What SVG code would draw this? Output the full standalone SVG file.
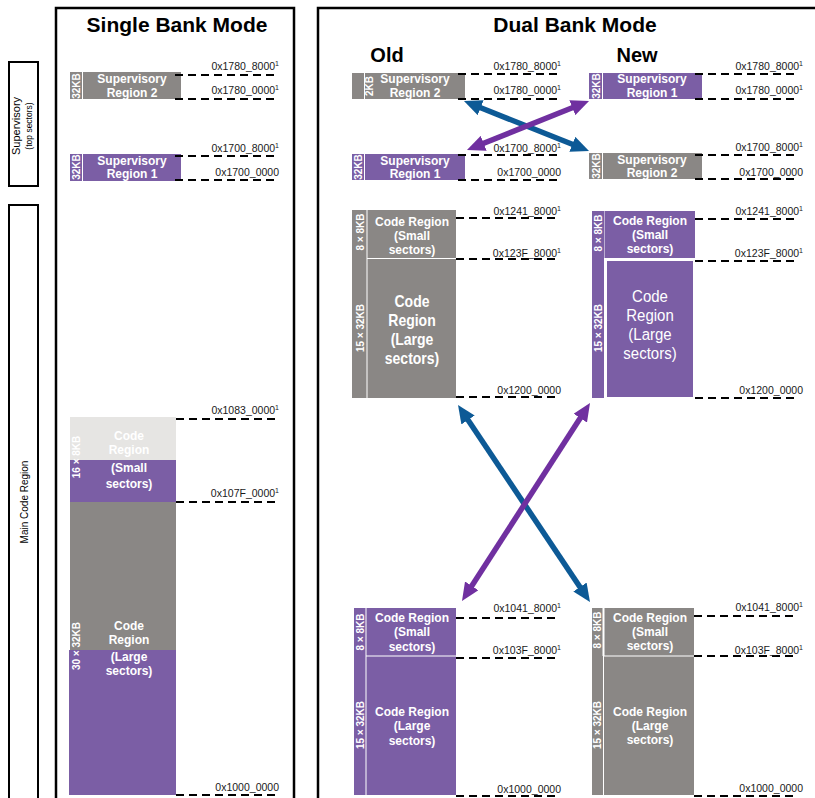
<svg xmlns="http://www.w3.org/2000/svg" width="815" height="798" viewBox="0 0 815 798">
<style>
.bg{fill:#ffffff}
.frame{fill:none;stroke:#000;stroke-width:2.5}
.side{fill:none;stroke:#000;stroke-width:2}
.pu{fill:#7b5ea5}
.gr{fill:#8a8785}
.lg{fill:#e6e5e3}
.sep{stroke:#ffffff;stroke-width:1;fill:none}
.dash{stroke:#000;stroke-width:2;stroke-dasharray:8 5;fill:none}
.addr{font-family:"Liberation Sans",Arial,sans-serif;font-size:10.5px;fill:#1a1a1a;text-anchor:end}
.sup{font-size:7px}
.wb{font-family:"Liberation Sans",Arial,sans-serif;font-size:12px;font-weight:bold;fill:#fff;text-anchor:middle}
.wbl{font-family:"Liberation Sans",Arial,sans-serif;font-size:14px;font-weight:bold;fill:#fff;text-anchor:middle}
.wnl{font-family:"Liberation Sans",Arial,sans-serif;font-size:15px;fill:#fff;text-anchor:middle}
.vt{font-family:"Liberation Sans",Arial,sans-serif;font-size:10px;font-weight:bold;fill:#fff;text-anchor:middle}
.title{font-family:"Liberation Sans",Arial,sans-serif;font-size:21px;font-weight:bold;fill:#000;text-anchor:middle}
.sub{font-family:"Liberation Sans",Arial,sans-serif;font-size:20px;font-weight:bold;fill:#000;text-anchor:middle}
.sidet{font-family:"Liberation Sans",Arial,sans-serif;fill:#000;text-anchor:middle}
.ab{stroke:#0d5a96;stroke-width:5.5;fill:none}
.ap{stroke:#7030a0;stroke-width:5.5;fill:none}
</style>
<defs>
<marker id="hb" viewBox="0 0 18 16" markerWidth="18" markerHeight="16" refX="6" refY="8" orient="auto-start-reverse" markerUnits="userSpaceOnUse"><path d="M0,0 L18,8 L0,16 z" fill="#0d5a96"/></marker>
<marker id="hp" viewBox="0 0 18 16" markerWidth="18" markerHeight="16" refX="6" refY="8" orient="auto-start-reverse" markerUnits="userSpaceOnUse"><path d="M0,0 L18,8 L0,16 z" fill="#7030a0"/></marker>
</defs>
<rect class="bg" x="0" y="0" width="815" height="798"/>

<g id="side-labels">
<rect class="side" x="9" y="62" width="29" height="124"/>
<text class="sidet" style="font-size:11px" transform="translate(16,126) rotate(-90)" dy="0.35em">Supervisory</text>
<text class="sidet" style="font-size:8.5px" transform="translate(29,126) rotate(-90)" dy="0.35em">(top sectors)</text>
<rect class="side" x="9" y="205" width="29" height="620"/>
<text class="sidet" style="font-size:10px" transform="translate(24,502) rotate(-90)" dy="0.35em">Main Code Region</text>
</g>

<g id="single-bank">
<rect class="frame" x="56" y="8" width="238" height="820"/>
<text class="title" x="177" y="32">Single Bank Mode</text>
</g>

<g id="dual-bank">
<rect class="frame" x="318" y="8" width="520" height="820"/>
<text class="title" x="575" y="32">Dual Bank Mode</text>
<text class="sub" x="387" y="62">Old</text>
<text class="sub" x="637" y="62">New</text>
</g>

<!-- Single bank nodes -->
<g id="s-sup2">
<rect class="gr" x="70" y="72" width="111" height="27"/>
<line class="sep" x1="82.5" y1="72" x2="82.5" y2="99"/>
<text class="vt" transform="translate(76,86) rotate(-90)" dy="0.35em">32KB</text>
<text class="wb" x="132" y="83">Supervisory</text>
<text class="wb" x="132" y="97">Region 2</text>
</g>
<g id="s-sup1">
<rect class="pu" x="70" y="154" width="111" height="27"/>
<line class="sep" x1="82.5" y1="154" x2="82.5" y2="181"/>
<text class="vt" transform="translate(76,167) rotate(-90)" dy="0.35em">32KB</text>
<text class="wb" x="132" y="165">Supervisory</text>
<text class="wb" x="132" y="178">Region 1</text>
</g>
<g id="s-code">
<rect class="lg" x="70" y="417" width="106" height="43"/>
<rect class="pu" x="70" y="460" width="106" height="42"/>
<rect class="gr" x="70" y="502" width="106" height="148"/>
<rect class="pu" x="69" y="650" width="107" height="145"/>
<text class="vt" transform="translate(76,457) rotate(-90)" dy="0.35em">16 × 8KB</text>
<text class="wb" x="129" y="440">Code</text>
<text class="wb" x="129" y="454">Region</text>
<text class="wb" x="129" y="472">(Small</text>
<text class="wb" x="129" y="488">sectors)</text>
<text class="vt" transform="translate(76,646) rotate(-90)" dy="0.35em">30 × 32KB</text>
<text class="wb" x="129" y="630">Code</text>
<text class="wb" x="129" y="644">Region</text>
<text class="wb" x="129" y="661">(Large</text>
<text class="wb" x="129" y="675">sectors)</text>
</g>

<!-- Dual bank old -->
<g id="o-sup2">
<rect class="gr" x="352" y="73" width="113" height="26"/>
<line class="sep" x1="364.5" y1="73" x2="364.5" y2="99"/>
<text class="vt" transform="translate(369,86) rotate(-90)" dy="0.35em">2KB</text>
<text class="wb" x="415" y="83">Supervisory</text>
<text class="wb" x="415" y="97">Region 2</text>
</g>
<g id="o-sup1">
<rect class="pu" x="352" y="154" width="113" height="26"/>
<line class="sep" x1="364.5" y1="154" x2="364.5" y2="180"/>
<text class="vt" transform="translate(358,167) rotate(-90)" dy="0.35em">32KB</text>
<text class="wb" x="415" y="165">Supervisory</text>
<text class="wb" x="415" y="178">Region 1</text>
</g>
<g id="o-code-hi">
<rect class="gr" x="352" y="210" width="104" height="188"/>
<line class="sep" x1="367" y1="210" x2="367" y2="398"/>
<line class="sep" x1="367" y1="258.5" x2="456" y2="258.5"/>
<text class="vt" transform="translate(360,232) rotate(-90)" dy="0.35em">8 × 8KB</text>
<text class="vt" transform="translate(360,328) rotate(-90)" dy="0.35em">15 × 32KB</text>
<text class="wb" x="412" y="226">Code Region</text>
<text class="wb" x="412" y="240">(Small</text>
<text class="wb" x="412" y="254">sectors)</text>
<g class="wbl">
<text transform="translate(412,307) scale(1,1.2)">Code</text>
<text transform="translate(412,326) scale(1,1.2)">Region</text>
<text transform="translate(412,345) scale(1,1.2)">(Large</text>
<text transform="translate(412,364) scale(1,1.2)">sectors)</text>
</g>
</g>
<g id="o-code-lo">
<rect class="pu" x="354" y="608" width="102" height="187"/>
<line class="sep" x1="366" y1="608" x2="366" y2="795"/>
<line class="sep" x1="366" y1="656" x2="456" y2="656"/>
<text class="vt" transform="translate(360,632) rotate(-90)" dy="0.35em">8 × 8KB</text>
<text class="vt" transform="translate(360,725) rotate(-90)" dy="0.35em">15 × 32KB</text>
<text class="wb" x="412" y="622">Code Region</text>
<text class="wb" x="412" y="636">(Small</text>
<text class="wb" x="412" y="651">sectors)</text>
<text class="wb" x="412" y="716">Code Region</text>
<text class="wb" x="412" y="730">(Large</text>
<text class="wb" x="412" y="745">sectors)</text>
</g>

<!-- Dual bank new -->
<g id="n-sup1">
<rect class="pu" x="589" y="73" width="113" height="26"/>
<line class="sep" x1="602.5" y1="73" x2="602.5" y2="99"/>
<text class="vt" transform="translate(596,86) rotate(-90)" dy="0.35em">32KB</text>
<text class="wb" x="652" y="83">Supervisory</text>
<text class="wb" x="652" y="97">Region 1</text>
</g>
<g id="n-sup2">
<rect class="gr" x="589" y="153" width="113" height="26"/>
<line class="sep" x1="602.5" y1="153" x2="602.5" y2="179"/>
<text class="vt" transform="translate(596,166) rotate(-90)" dy="0.35em">32KB</text>
<text class="wb" x="652" y="164">Supervisory</text>
<text class="wb" x="652" y="177">Region 2</text>
</g>
<g id="n-code-hi">
<rect class="pu" x="592" y="211" width="12" height="187"/>
<rect class="pu" x="604.5" y="211" width="90.5" height="47"/>
<rect class="pu" x="607" y="261" width="86" height="136"/>
<text class="vt" transform="translate(598,233) rotate(-90)" dy="0.35em">8 × 8KB</text>
<text class="vt" transform="translate(598,328) rotate(-90)" dy="0.35em">15 × 32KB</text>
<text class="wb" x="650" y="225">Code Region</text>
<text class="wb" x="650" y="239">(Small</text>
<text class="wb" x="650" y="253">sectors)</text>
<g class="wnl">
<text transform="translate(650,302) scale(1,1.15)">Code</text>
<text transform="translate(650,321) scale(1,1.15)">Region</text>
<text transform="translate(650,340) scale(1,1.15)">(Large</text>
<text transform="translate(650,359) scale(1,1.15)">sectors)</text>
</g>
</g>
<g id="n-code-lo">
<rect class="gr" x="592" y="608" width="102" height="187"/>
<line stroke="#fff" stroke-width="2" x1="603.5" y1="608" x2="603.5" y2="656"/>
<line class="sep" x1="603.5" y1="656" x2="603.5" y2="795"/>
<line class="sep" x1="603" y1="656" x2="694" y2="656"/>
<text class="vt" transform="translate(597,630) rotate(-90)" dy="0.35em">8 × 8KB</text>
<text class="vt" transform="translate(597,725) rotate(-90)" dy="0.35em">15 × 32KB</text>
<text class="wb" x="650" y="622">Code Region</text>
<text class="wb" x="650" y="636">(Small</text>
<text class="wb" x="650" y="650">sectors)</text>
<text class="wb" x="650" y="716">Code Region</text>
<text class="wb" x="650" y="730">(Large</text>
<text class="wb" x="650" y="744">sectors)</text>
</g>

<!-- Address markers -->
<g id="addresses">
<line class="dash" x1="175" y1="75" x2="278" y2="75"/>
<line class="dash" x1="175" y1="99" x2="278" y2="99"/>
<line class="dash" x1="175" y1="156" x2="278" y2="156"/>
<line class="dash" x1="175" y1="180" x2="278" y2="180"/>
<line class="dash" x1="176" y1="419" x2="278" y2="419"/>
<line class="dash" x1="176" y1="502" x2="278" y2="502"/>
<line class="dash" x1="176" y1="795" x2="278" y2="795"/>
<text class="addr" x="279" y="70">0x1780_8000<tspan class="sup" dy="-4">1</tspan></text>
<text class="addr" x="279" y="94">0x1780_0000<tspan class="sup" dy="-4">1</tspan></text>
<text class="addr" x="279" y="152">0x1700_8000<tspan class="sup" dy="-4">1</tspan></text>
<text class="addr" x="279" y="176">0x1700_0000</text>
<text class="addr" x="279" y="414">0x1083_0000<tspan class="sup" dy="-4">1</tspan></text>
<text class="addr" x="279" y="497">0x107F_0000<tspan class="sup" dy="-4">1</tspan></text>
<text class="addr" x="279" y="791">0x1000_0000</text>

<line class="dash" x1="458" y1="74" x2="558" y2="74"/>
<line class="dash" x1="458" y1="99" x2="558" y2="99"/>
<line class="dash" x1="458" y1="155" x2="558" y2="155"/>
<line class="dash" x1="458" y1="180" x2="558" y2="180"/>
<line class="dash" x1="456" y1="218" x2="558" y2="218"/>
<line class="dash" x1="456" y1="259" x2="558" y2="259"/>
<line class="dash" x1="456" y1="397" x2="558" y2="397"/>
<line class="dash" x1="456" y1="618" x2="558" y2="618"/>
<line class="dash" x1="456" y1="658" x2="558" y2="658"/>
<line class="dash" x1="456" y1="796" x2="558" y2="796"/>
<text class="addr" x="561" y="70">0x1780_8000<tspan class="sup" dy="-4">1</tspan></text>
<text class="addr" x="561" y="94">0x1780_0000<tspan class="sup" dy="-4">1</tspan></text>
<text class="addr" x="561" y="152">0x1700_8000<tspan class="sup" dy="-4">1</tspan></text>
<text class="addr" x="561" y="176">0x1700_0000</text>
<text class="addr" x="561" y="215">0x1241_8000<tspan class="sup" dy="-4">1</tspan></text>
<text class="addr" x="561" y="257">0x123F_8000<tspan class="sup" dy="-4">1</tspan></text>
<text class="addr" x="561" y="394">0x1200_0000</text>
<text class="addr" x="561" y="612">0x1041_8000<tspan class="sup" dy="-4">1</tspan></text>
<text class="addr" x="561" y="654">0x103F_8000<tspan class="sup" dy="-4">1</tspan></text>
<text class="addr" x="561" y="793">0x1000_0000</text>

<line class="dash" x1="695" y1="74" x2="797" y2="74"/>
<line class="dash" x1="695" y1="99" x2="797" y2="99"/>
<line class="dash" x1="695" y1="155" x2="797" y2="155"/>
<line class="dash" x1="695" y1="179" x2="797" y2="179"/>
<line class="dash" x1="695" y1="219" x2="797" y2="219"/>
<line class="dash" x1="695" y1="261" x2="797" y2="261"/>
<line class="dash" x1="695" y1="398" x2="797" y2="398"/>
<line class="dash" x1="694" y1="616" x2="797" y2="616"/>
<line class="dash" x1="694" y1="656" x2="797" y2="656"/>
<line class="dash" x1="694" y1="796" x2="797" y2="796"/>
<text class="addr" x="803" y="70">0x1780_8000<tspan class="sup" dy="-4">1</tspan></text>
<text class="addr" x="803" y="94">0x1780_0000<tspan class="sup" dy="-4">1</tspan></text>
<text class="addr" x="803" y="151">0x1700_8000<tspan class="sup" dy="-4">1</tspan></text>
<text class="addr" x="803" y="176">0x1700_0000</text>
<text class="addr" x="803" y="215">0x1241_8000<tspan class="sup" dy="-4">1</tspan></text>
<text class="addr" x="803" y="257">0x123F_8000<tspan class="sup" dy="-4">1</tspan></text>
<text class="addr" x="803" y="394">0x1200_0000</text>
<text class="addr" x="803" y="611">0x1041_8000<tspan class="sup" dy="-4">1</tspan></text>
<text class="addr" x="803" y="654">0x103F_8000<tspan class="sup" dy="-4">1</tspan></text>
<text class="addr" x="803" y="792">0x1000_0000</text>
</g>

<g id="connectors">
<line class="ab" x1="475.1" y1="105.5" x2="577.9" y2="146.5" marker-start="url(#hb)" marker-end="url(#hb)"/>
<line class="ap" x1="478.1" y1="145.5" x2="577.9" y2="105.5" marker-start="url(#hp)" marker-end="url(#hp)"/>
<line class="ab" x1="464.7" y1="415" x2="583.3" y2="592" marker-start="url(#hb)" marker-end="url(#hb)"/>
<line class="ap" x1="583.5" y1="413.1" x2="468.5" y2="590.9" marker-start="url(#hp)" marker-end="url(#hp)"/>
</g>
</svg>
